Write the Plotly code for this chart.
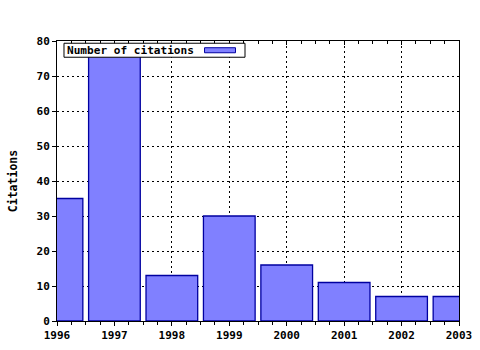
import plotly.graph_objects as go

years = [1996, 1997, 1998, 1999, 2000, 2001, 2002, 2003]
citations = [35, 76, 13, 30, 16, 11, 7, 7]
series_name = "Number of citations"
y_title = "Citations"

FONT = dict(family="DejaVu Sans Mono", size=11, color="black", weight="bold")
LEG_FONT = dict(family="DejaVu Sans Mono", size=11.1, color="black", weight="bold")
TITLE_FONT = dict(family="DejaVu Sans Mono", size=11.5, color="black", weight="bold")
FILL = "#8080ff"
EDGE = "#0000a0"

fig = go.Figure()
fig.add_trace(go.Bar(x=years, y=citations, width=0.9, name=series_name,
                     marker=dict(color=FILL, line=dict(color=EDGE, width=1.3)),
                     showlegend=False))
# invisible trace to drive top axis
fig.add_trace(go.Scatter(x=[years[0], years[-1]], y=[0, 0], xaxis="x2", mode="lines",
                         line=dict(width=0), hoverinfo="skip", showlegend=False))

fig.update_layout(
    width=480, height=350,
    margin=dict(l=57, r=21, t=41, b=29, autoexpand=False),
    paper_bgcolor="white", plot_bgcolor="white",
    font=FONT,
    xaxis=dict(range=[1996, 2003], dtick=1, tick0=1996, showline=True, linecolor="black",
               linewidth=1, mirror=False, ticks="outside", ticklen=4, tickcolor="black",
               showgrid=True, gridcolor="black", griddash="2px,3px", gridwidth=1,
               zeroline=False, automargin=False,
               minor=dict(dtick=0.25, tick0=1996, ticks="outside", ticklen=3, tickcolor="black",
                          showgrid=False),
               tickfont=FONT),
    xaxis2=dict(range=[1996, 2003], overlaying="x", side="top", dtick=1, tick0=1996,
                showline=True, linecolor="black", linewidth=1, ticks="inside", ticklen=4,
                tickcolor="black", showticklabels=False, showgrid=False, zeroline=False,
                automargin=False,
                minor=dict(dtick=0.25, tick0=1996, ticks="inside", ticklen=3, tickcolor="black")),
    yaxis=dict(range=[0, 80], dtick=10, showline=True, linecolor="black", linewidth=1,
               mirror=True, ticks="outside", ticklen=4, tickcolor="black",
               showgrid=True, gridcolor="black", griddash="2px,3px", gridwidth=1,
               zeroline=False, tickfont=FONT, automargin=False,
               title=dict(text=y_title, font=TITLE_FONT, standoff=16)),
    shapes=[
        dict(type="rect", xref="paper", yref="paper", x0=0.0174, x1=0.4677, y0=0.942, y1=0.992,
             fillcolor="white", line=dict(color="black", width=1), layer="above"),
        dict(type="rect", xref="paper", yref="paper", x0=0.367, x1=0.444, y0=0.958, y1=0.976,
             fillcolor=FILL, line=dict(color=EDGE, width=1), layer="above"),
    ],
    annotations=[
        dict(text=series_name, xref="paper", yref="paper", x=0.019, y=0.967,
             xanchor="left", yanchor="middle", showarrow=False, font=LEG_FONT),
    ],
)

fig.write_html("out.html")
